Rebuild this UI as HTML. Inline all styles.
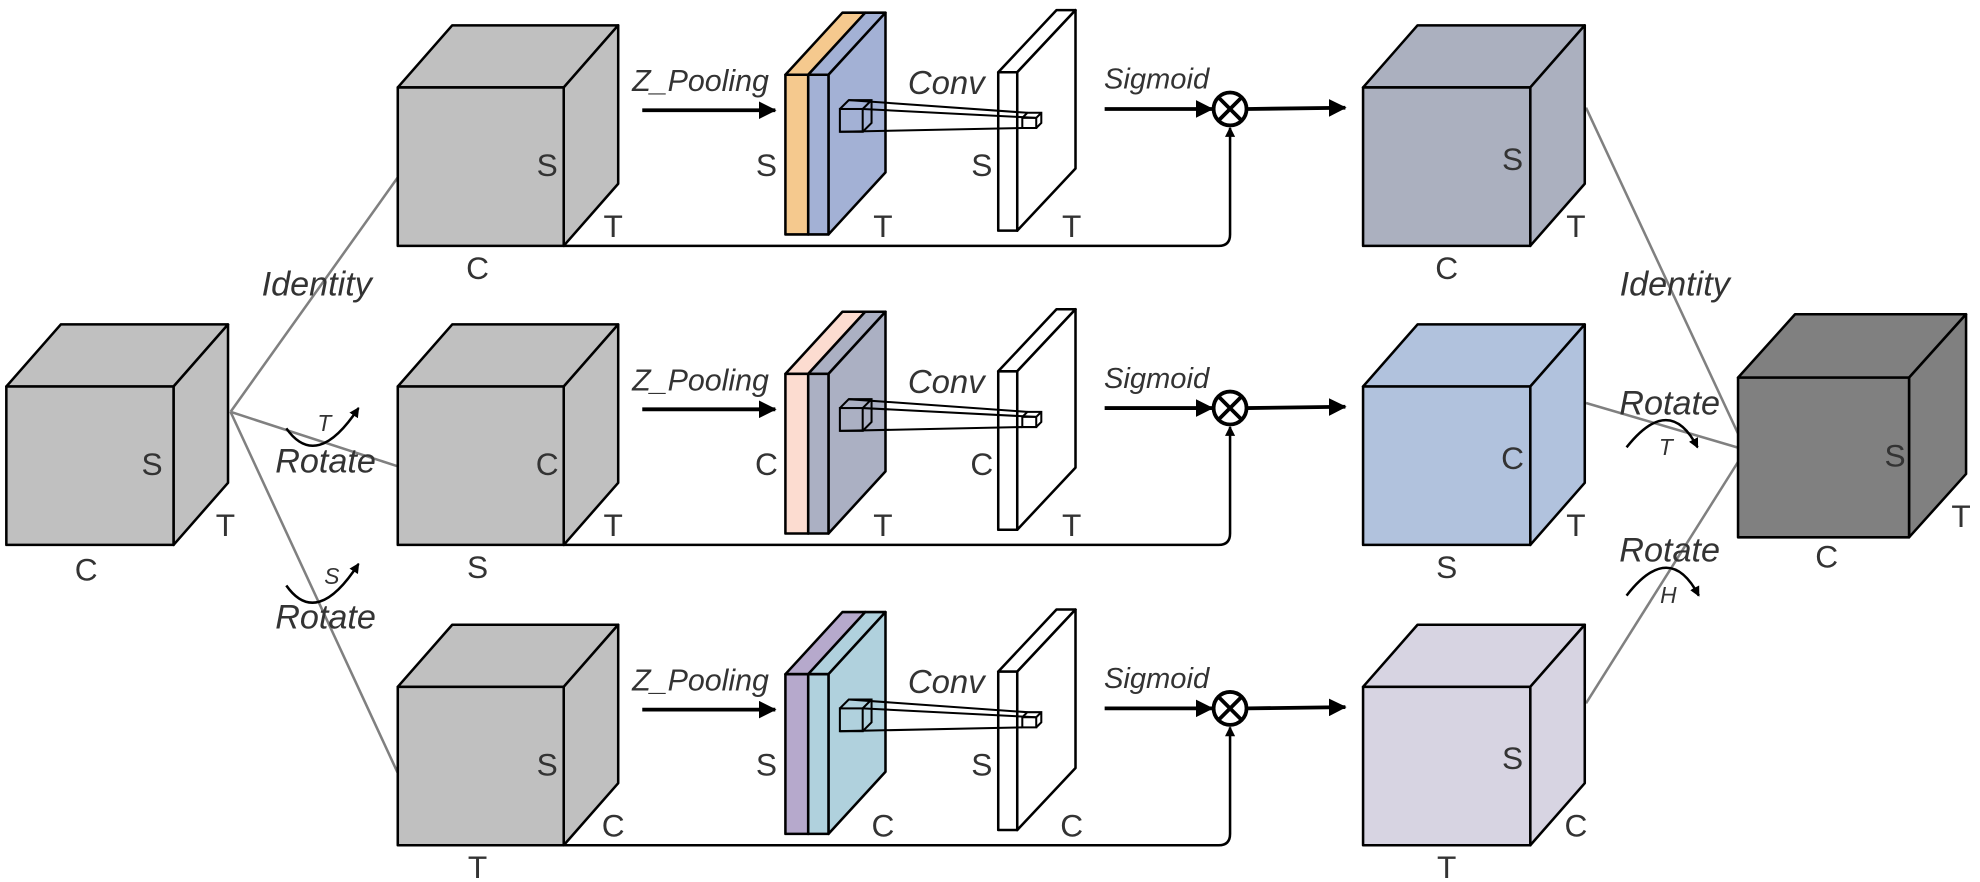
<!DOCTYPE html>
<html><head><meta charset="utf-8"><style>
html,body{margin:0;padding:0;background:#fff;}
svg{display:block;}
text{font-family:"Liberation Sans",Arial,sans-serif;fill:#333;}
.it{font-style:italic;}
</style></head><body>
<svg id="fig" width="1980" height="882" viewBox="0 0 1563 696" preserveAspectRatio="none" xmlns="http://www.w3.org/2000/svg">
<defs>
<marker id="ah" markerWidth="8" markerHeight="8" refX="7" refY="4" orient="auto" markerUnits="userSpaceOnUse" viewBox="0 0 8 8"><path d="M0,0 L8,4 L0,8 z" fill="#000"/></marker>
<marker id="ahb" markerWidth="14" markerHeight="14" refX="13" refY="7" orient="auto" markerUnits="userSpaceOnUse" viewBox="0 0 14 14"><path d="M0,0 L14,7 L0,14 z" fill="#000"/></marker>
</defs>
<g id="root"></g>
</svg>
<script>
const NS='http://www.w3.org/2000/svg';
const root=document.getElementById('root');
function mk(tag,attrs,parent){const e=document.createElementNS(NS,tag);for(const k in attrs)e.setAttribute(k,attrs[k]);(parent||root).appendChild(e);return e;}
function txt(x,y,s,size,cls,parent){const t=mk('text',{x:x,y:y,'font-size':size,'text-anchor':'middle'},parent);if(cls)t.setAttribute('class',cls);t.textContent=s;return t;}
function cube(x,y,w,h,dx,dy,fill,name){
  const g=mk('g',{});
  
  
  const st={fill:fill,stroke:'#000','stroke-width':2,'stroke-linejoin':'round'};
  mk('polygon',Object.assign({points:`${x},${y} ${x+w},${y} ${x+w+dx},${y+dy} ${x+dx},${y+dy}`},st),g);
  mk('polygon',Object.assign({points:`${x+w},${y} ${x+w+dx},${y+dy} ${x+w+dx},${y+h+dy} ${x+w},${y+h}`},st),g);
  mk('rect',Object.assign({x:x,y:y,width:w,height:h},st),g);
  return g;
}
function labels(g,cx,cy,a,b,c){
  txt(cx[0],cy[0],a,25,null,g);txt(cx[1],cy[1],b,25,null,g);txt(cx[2],cy[2],c,25,null,g);
}
const gl={stroke:'#808080','stroke-width':2,fill:'none'};
const gc=mk('g',{});


[[182,325,314,140],[182,325,314,368],[182,325,314,610],[1252,85,1378,355],[1252,318,1378,355],[1252,555,1378,355]].forEach(l=>mk('line',Object.assign({x1:l[0],y1:l[1],x2:l[2],y2:l[3]},gl),gc));

let g=cube(5,305,132,125,43,-49,'#c0c0c0','input-cube');
labels(g,[120,178,68],[375,423,458],'S','T','C');
g=cube(1372,298,135,126,45,-50,'#808080','output-cube');
labels(g,[1496,1548,1442],[368,416,448],'S','T','C');

const rows=[0,236,473];
const plateCols=[['#f5c98e','#a3b1d5'],['#fcdcd0','#abb0c3'],['#b6a9cc','#b0d1dd']];
const cubeLab=[['S','T','C'],['C','T','S'],['S','C','T']];
const outCol=['#abb0bf','#b1c2dd','#d7d4e2'];
for(let i=0;i<3;i++){
  const o=rows[i];
  const L=cubeLab[i];
  g=cube(314,69+o,131,125,43,-49,'#c0c0c0','branch-cube-'+(i+1));
  labels(g,[432,484,377],[139+o,187+o,220+o],L[0],L[1],L[2]);
  const pg=mk('g',{});
  
  
  const st={stroke:'#000','stroke-width':2,'stroke-linejoin':'round'};
  const t=59+o,b=185+o,dx=45,dy=-49;
  mk('polygon',Object.assign({fill:plateCols[i][0],points:`620,${t} 638,${t} ${638+dx},${t+dy} ${620+dx},${t+dy}`},st),pg);
  mk('rect',Object.assign({fill:plateCols[i][0],x:620,y:t,width:18,height:b-t},st),pg);
  mk('polygon',Object.assign({fill:plateCols[i][1],points:`638,${t} 654,${t} ${654+dx},${t+dy} ${638+dx},${t+dy}`},st),pg);
  mk('polygon',Object.assign({fill:plateCols[i][1],points:`654,${t} ${654+dx},${t+dy} ${654+dx},${b+dy} 654,${b}`},st),pg);
  mk('rect',Object.assign({fill:plateCols[i][1],x:638,y:t,width:16,height:b-t},st),pg);
  txt(605,139+o,L[0],25,null,pg);txt(697,187+o,L[1],25,null,pg);
  const cg=mk('g',{});
  
  
  const ct=57+o,cb=182+o;
  mk('polygon',Object.assign({fill:'#fff',points:`788,${ct} 803,${ct} 849,${ct-49} 834,${ct-49}`},st),cg);
  mk('polygon',Object.assign({fill:'#fff',points:`803,${ct} 849,${ct-49} 849,${cb-49} 803,${cb}`},st),cg);
  mk('rect',Object.assign({fill:'#fff',x:788,y:ct,width:15,height:cb-ct},st),cg);
  txt(775,139+o,L[0],25,null,cg);txt(846,187+o,L[1],25,null,cg);
  const kg=mk('g',{});
  
  
  const ks={fill:'none',stroke:'#000','stroke-width':1.6};
  mk('rect',Object.assign({x:663,y:86+o,width:18,height:18},ks),kg);
  mk('path',Object.assign({d:`M663,${86+o} L670,${79+o} L688,${79+o} L688,${97+o} L681,${104+o} M681,${86+o} L688,${79+o}`},ks),kg);
  mk('path',Object.assign({d:`M807,${93+o} h11 v8 h-11 z M807,${93+o} l4,-4 h11 v8 l-4,4 M818,${93+o} l4,-4`},ks),kg);
  mk('line',Object.assign({x1:670,y1:79+o,x2:811,y2:89+o},ks),kg);
  mk('line',Object.assign({x1:681,y1:86+o,x2:818,y2:93+o},ks),kg);
  mk('line',Object.assign({x1:663,y1:104+o,x2:807,y2:101+o},ks),kg);
  let e=txt(553,72+o,'Z_Pooling',24,'it');
  
  
  e=txt(747,74+o,'Conv',26,'it');
  
  
  e=txt(913,70+o,'Sigmoid',23,'it');
  
  
  const ag=mk('g',{});
  
  
  mk('line',{x1:507,y1:87+o,x2:612,y2:87+o,stroke:'#000','stroke-width':3,'marker-end':'url(#ahb)'},ag);
  mk('line',{x1:872,y1:86+o,x2:957,y2:86+o,stroke:'#000','stroke-width':3,'marker-end':'url(#ahb)'},ag);
  mk('line',{x1:985,y1:86+o,x2:1062,y2:85+o,stroke:'#000','stroke-width':3,'marker-end':'url(#ahb)'},ag);
  mk('path',{d:`M445,${194+o} H962 Q971,${194+o} 971,${185+o} V${101+o}`,fill:'none',stroke:'#000','stroke-width':2,'marker-end':'url(#ah)'},ag);
  const mg=mk('g',{});
  
  
  mk('circle',{cx:971,cy:86+o,r:13,fill:'#fff',stroke:'#000','stroke-width':3},mg);
  mk('path',{d:`M962,${77+o} L980,${95+o} M980,${77+o} L962,${95+o}`,stroke:'#000','stroke-width':3},mg);
  g=cube(1076,69+o,132,125,43,-49,outCol[i],'attended-cube-'+(i+1));
  const OL=[['S','T','C'],['C','T','S'],['S','C','T']][i];
  labels(g,[1194,1244,1142],[134+o,187+o,220+o],OL[0],OL[1],OL[2]);
}
function lab(x,y,s,name){const e=txt(x,y,s,27,'it');}
lab(250,233,'Identity','identity-label-left');
lab(257,373,'Rotate','rotate-t-label-left');
lab(257,496,'Rotate','rotate-s-label-left');
lab(1322,233,'Identity','identity-label-right');
lab(1318,327,'Rotate','rotate-t-label-right');
lab(1318,443,'Rotate','rotate-h-label-right');
const rg=mk('g',{});


const as={fill:'none',stroke:'#000','stroke-width':2,'marker-end':'url(#ah)'};
mk('path',Object.assign({d:'M226,338 Q250,372 283,322'},as),rg);
mk('path',Object.assign({d:'M226,462 Q250,496 283,445'},as),rg);
mk('path',Object.assign({d:'M1284,353 Q1318,310 1340,353'},as),rg);
mk('path',Object.assign({d:'M1284,470 Q1318,426 1341,470'},as),rg);
txt(256,340,'T',18,'it',rg);txt(262,461,'S',18,'it',rg);
txt(1315,359,'T',18,'it',rg);txt(1317,476,'H',18,'it',rg);
</script>
</body></html>
